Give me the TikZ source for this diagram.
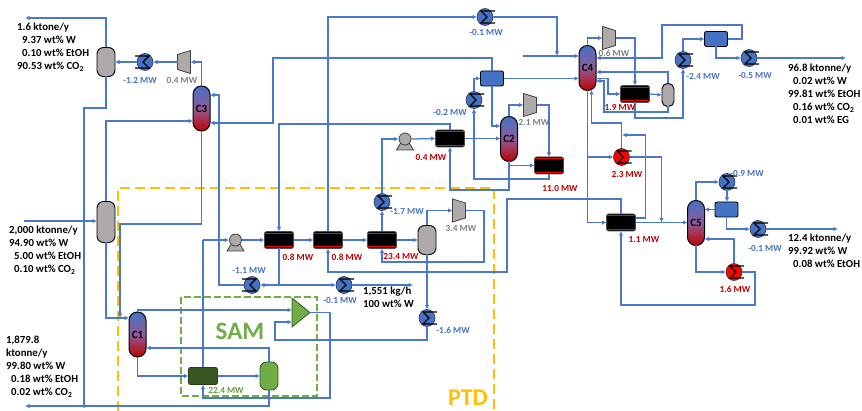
\documentclass[tikz,border=0pt]{standalone}
\usepackage{fontspec}
\setmainfont{Carlito}
\usetikzlibrary{arrows.meta,shapes.geometric}
\definecolor{pipec}{HTML}{4A78CC}
\definecolor{fillblue}{HTML}{4472C4}
\definecolor{mwblue}{HTML}{4472C4}
\definecolor{mwred}{HTML}{C00000}
\definecolor{midcol}{HTML}{8F5A98}
\definecolor{mwgrey}{HTML}{7F7F7F}
\definecolor{greyfill}{HTML}{AEAAAA}
\definecolor{samgreen}{HTML}{70AD47}
\definecolor{darkg}{HTML}{385723}
\definecolor{ptdc}{HTML}{FFC000}
\tikzset{
  pipe/.style={draw=pipec,line width=1.25pt},
  arr/.style={pipe,-{Latex[length=4.5pt,width=4.5pt]}},
  column/.style={rectangle,draw=black,line width=1pt,rounded corners=8.4pt,minimum width=17pt,minimum height=45pt,inner sep=0pt,outer sep=0pt,
    top color=fillblue,bottom color=mwred,middle color=midcol,font=\bfseries\fontsize{11}{12}\selectfont},
  vessel/.style={rectangle,draw=black,line width=.9pt,rounded corners=6.5pt,fill=greyfill,minimum width=18pt,inner sep=0pt,outer sep=0pt},
  hexblack/.style={rectangle,draw=black!70,line width=.6pt,rounded corners=2pt,fill=black,minimum width=29pt,minimum height=17pt,inner sep=0pt,outer sep=0pt,
    path picture={\draw[red,line width=1pt] ([yshift=-1.6pt]path picture bounding box.north west) -- ([yshift=-1.6pt]path picture bounding box.north east);
      \draw[red,line width=1pt] ([yshift=1.6pt]path picture bounding box.south west) -- ([yshift=1.6pt]path picture bounding box.south east);}},
  bluebox/.style={rectangle,draw=black,line width=.9pt,rounded corners=2pt,fill=fillblue,minimum width=23pt,minimum height=15pt,inner sep=0pt,outer sep=0pt},
  hxbody/.style={ellipse,draw=black!80,line width=.6pt,minimum width=16pt,minimum height=17pt,inner sep=0pt,outer sep=0pt},
  sigmaline/.style={draw=black,line width=1.1pt},
  ghost/.style={rectangle,inner sep=0pt,outer sep=0pt,minimum width=13pt,minimum height=23pt},
  grey shape/.style={draw=black!75,line width=.8pt,fill=greyfill},
  mwb/.style={inner sep=0pt,text=mwblue,font=\bfseries\fontsize{9.3}{10}\selectfont},
  mwr/.style={inner sep=0pt,text=mwred,font=\bfseries\fontsize{9.3}{10}\selectfont},
  mwg/.style={inner sep=0pt,text=mwgrey,font=\bfseries\fontsize{9.3}{10}\selectfont},
  stream/.style={anchor=north west,inner sep=0pt,align=left,text=black,font=\bfseries\fontsize{10.8}{13}\selectfont},
}
\newcommand{\hxR}[3]{% tails to the right
  \node[hxbody,fill=#3] (#1) at (#2) {};
  \draw[sigmaline] ([shift={(10pt,6pt)}]#1.center) -- ([shift={(-4pt,6pt)}]#1.center) -- ([shift={(2pt,0pt)}]#1.center) -- ([shift={(-4pt,-6pt)}]#1.center) -- ([shift={(10pt,-6pt)}]#1.center);}
\newcommand{\hxL}[3]{% tails to the left
  \node[hxbody,fill=#3] (#1) at (#2) {};
  \draw[sigmaline] ([shift={(-10pt,6pt)}]#1.center) -- ([shift={(4pt,6pt)}]#1.center) -- ([shift={(-2pt,0pt)}]#1.center) -- ([shift={(4pt,-6pt)}]#1.center) -- ([shift={(-10pt,-6pt)}]#1.center);}
\newcommand{\comprT}[2]{% tall side on the left
  \node[ghost] (#1) at (#2) {};
  \draw[grey shape] (#1.north west) -- ([yshift=-4pt]#1.north east) -- ([yshift=4pt]#1.south east) -- (#1.south west) -- cycle;}
\newcommand{\comprN}[2]{% tall side on the right
  \node[ghost] (#1) at (#2) {};
  \draw[grey shape] (#1.north east) -- ([yshift=-4pt]#1.north west) -- ([yshift=4pt]#1.south west) -- (#1.south east) -- cycle;}
\newcommand{\pumpsym}[2]{%
  \node[circle,minimum size=13pt,inner sep=0pt,outer sep=0pt] (#1) at (#2) {};
  \draw[grey shape] ([yshift=3pt]#1.center) -- ([shift={(8.5pt,-11pt)}]#1.center) -- ([shift={(-8.5pt,-11pt)}]#1.center) -- cycle;
  \draw[grey shape] (#1.center) circle (6pt);}
\begin{document}
\begin{tikzpicture}[x=1pt,y=-1pt]
\useasboundingbox (0,0) rectangle (862,411);
% dashed frames
\draw[ptdc,line width=1.2pt,dash pattern=on 10pt off 5pt] (118,411) -- (118,188) -- (494,188) -- (494,411);
\draw[samgreen,line width=1.2pt,dash pattern=on 7pt off 3pt] (181,297) rectangle (317,396);
% equipment
\node[vessel,minimum height=29pt] (V1) at (106,62) {};
\hxL{HXa}{145,62}{fillblue}
\comprN{Ka}{184,62}
\node[column] (C3) at (201.5,108.5) {C3};
\node[vessel,minimum height=41pt] (V2) at (106,222) {};
\node[column] (C1) at (137.5,334.5) {C1};
\node[rectangle,draw=darkg!70!black,line width=.8pt,rounded corners=2pt,fill=darkg,minimum width=29pt,minimum height=17pt,inner sep=0pt,outer sep=0pt] (HS) at (203,376) {};
\node[vessel,fill=samgreen,draw=darkg,minimum height=28pt] (VS) at (269,376) {};
\draw[fill=samgreen,draw=darkg,line width=.8pt] (292,298) -- (310,312.5) -- (292,327) -- cycle;
\node[rectangle,inner sep=0pt,outer sep=0pt,minimum width=18pt,minimum height=29pt] (TS) at (301,312.5) {};
\pumpsym{Pa}{235.5,240}
\node[hexblack] (H1) at (279,240) {};
\node[hexblack] (H2) at (328,240) {};
\node[hexblack] (H3) at (382,240) {};
\node[vessel,minimum height=29pt] (V3) at (427,240) {};
\comprT{Kb}{459,210.5}
\hxR{HXb}{382,202}{fillblue}
\hxL{HXc}{252,285}{fillblue}
\hxR{HXd}{344,285}{fillblue}
\hxR{HXe}{427,318}{fillblue}
\hxR{HXf}{485,17}{fillblue}
\node[bluebox] (Ba) at (492,78.5) {};
\hxR{HXg}{474,100}{fillblue}
\pumpsym{Pb}{405,139}
\node[hexblack] (H4) at (450,138.5) {};
\node[column] (C2) at (509,139) {C2};
\comprT{Kc}{530,105}
\node[hexblack] (H5) at (549,165.5) {};
\node[column] (C4) at (587.5,68) {C4};
\comprT{Kd}{609,38}
\node[hexblack] (H6) at (635,94) {};
\node[vessel,minimum width=12pt,rounded corners=5.5pt,minimum height=23pt] (V4) at (668,95) {};
\hxR{HXh}{683,60}{fillblue}
\node[bluebox] (Bb) at (716,39) {};
\hxR{HXi}{749,58}{fillblue}
\hxR{HXj}{621.5,157}{red}
\node[hexblack] (H7) at (621,222.5) {};
\node[column] (C5) at (696,223) {C5};
\hxR{HXk}{727,182}{fillblue}
\node[bluebox] (Bc) at (726.5,209.5) {};
\hxR{HXl}{758,229}{fillblue}
\hxR{HXm}{734,272}{red}
% free ends
\coordinate (outA) at (25,18);
\coordinate (outB) at (25,406);
\coordinate (feed) at (24,221);
\coordinate (outC) at (413,285);
\coordinate (outD) at (846,58);
\coordinate (outE) at (838,229);
\coordinate (c4in) at (523,56);
% left part
\draw[arr] (V1.north) -- (106,18) -- (outA);
\draw[arr] (HXa.west) -- (V1.east |- HXa.west);
\draw[arr] (Ka.west) -- (HXa.east);
\draw[arr] (C3.north) |- (Ka.east);
\draw[arr] (V1.south) -- (106,108) -- (84,108) -- (84,406) -- (88,406);
\draw[arr] (V2.north) |- (C3.west |- 0,121);
\draw[line width=1.8pt,draw=pipec] (feed) -- (84,221);
\draw[arr] (84,221) -- (V2.west |- 0,221);
\draw[arr] (V2.south) -- (106,318) -- (C1.west |- 0,318);
\draw[arr] (C3.south) -- (201.5,224) -- (120,224) -- (120,318);
\draw[arr] (HXc.west) -- (219,285) -- (219,95) -- (C3.east |- 0,95);
\draw[arr] (Ba.north) |- (273,58) -- (273,123) -- (C3.east |- 0,123);
\draw[arr] (H4.north) |- (279,124) -- (H1.north);
\draw[pipe] (H1.south) -- (279,285);
\draw[arr] (279,285) -- (HXc.east);
\draw[arr] (279,285) -- (HXd.west);
\draw[arr] (HXd.east) -- (outC);
% SAM
\draw[arr] (C1.north) |- (292,310);
\draw[arr] (C1.south) |- (HS.west);
\draw[arr] (HS.east) -- (VS.west);
\draw[arr] (VS.north) |- (C1.east |- 0,348);
\draw[arr] (VS.south) |- (outB);
\draw[pipe] (HS.north) |- (203,240);
\draw[arr] (203,240) -- (Pa.west);
\draw[arr] (310,312.5) -- (330,312.5) -- (330,398) -- (203,398) -- (HS.south);
\draw[arr] (HXe.south) -- (427,340) -- (275,340) -- (275,322) -- (292,322);
% row of exchangers
\draw[arr] (Pa.east) -- (H1.west);
\draw[arr] (H1.east) -- (H2.west);
\draw[arr] (H2.east) -- (H3.west);
\draw[arr] (H3.east) -- (V3.west);
\draw[arr] (V3.north) |- (Kb.west);
\draw[arr] (Kb.east) -- (484,210.5) -- (484,262) -- (382,262) -- (H3.south);
\draw[arr] (H3.north) -- (HXb.south);
\draw[arr] (HXb.north) |- (Pb.west);
\draw[arr] (V3.south) -- (HXe.north);
\draw[arr] (H7.north) |- (507,199) -- (507,272) -- (328,272) -- (H2.south);
\draw[arr] (H2.north) |- (HXf.west);
% C2 section
\draw[arr] (Pb.east) -- (H4.west);
\draw[arr] (H4.east) -- (C2.west |- H4.east);
\draw[arr] (H5.south) |- (474,179) -- (HXg.south);
\draw[arr] (HXg.north) |- (Ba.west);
\draw[arr] (Ba.east) -- (C4.west |- Ba.east);
\draw[arr] (Ba.south) |- (C2.west |- 0,126);
\draw[arr] (C2.south) -- (509,165.5) -- (H5.west);
\draw[arr] (509,165.5) -- (509,190) -- (450,190) -- (H4.south);
\draw[arr] (C2.north) |- (Kc.west);
\draw[arr] (Kc.east) -- (549,105) -- (H5.north);
\draw[arr] (HXf.east) -- (557,17) -- (557,56);
\draw[arr] (c4in) -- (C4.west |- 0,56);
% C4 section
\draw[arr] (C4.north) |- (Kd.west);
\draw[arr] (Kd.east) -- (635,38) -- (H6.north);
\draw[arr] (Bb.east) -- (742,39) -- (742,25) -- (662,25) -- (662,58) -- (C4.east |- 0,58);
\draw[arr] (V4.north) |- (C4.east |- 0,72);
\draw[arr] (C4.east |- 0,78.5) -- (608,78.5) -- (608,94) -- (H6.west);
\draw[arr] (H6.east) -- (V4.west);
\draw[arr] (V4.south) -- (668,112) -- (604,112) -- (604,81) -- (C4.east |- 0,81);
\draw[arr] (H6.south) -- (635,118) -- (683,118) -- (HXh.south);
\draw[arr] (HXh.north) |- (Bb.west);
\draw[arr] (Bb.south) |- (HXi.west);
\draw[arr] (HXi.east) -- (outD);
% C4 bottom / H7
\draw[pipe] (C4.south) -- (587.5,157);
\draw[arr] (587.5,157) -- (HXj.west);
\draw[arr] (587.5,157) |- (H7.west);
\draw[arr] (HXj.north) -- (621.5,123) -- (591.5,123) -- (591.5,90);
\draw[arr] (H7.east |- 0,218) -- (645.5,218) -- (645.5,135) -- (622,135);
\draw[arr] (HXj.east) -- (661.5,157) -- (661.5,222.5);
\draw[arr] (H7.east) -- (C5.west |- H7.east);
% C5
\draw[arr] (C5.north) |- (HXk.west);
\draw[arr] (HXk.south) -- (Bc.north -| HXk.south);
\draw[arr] (Bc.west) -- (C5.east |- Bc.west);
\draw[arr] (Bc.south) |- (HXl.west);
\draw[arr] (HXl.east) -- (outE);
\draw[arr] (C5.south) |- (HXm.west);
\draw[arr] (HXm.north) |- (C5.east |- 0,239);
\draw[arr] (HXm.east) -- (755,272) -- (755,305) -- (621,305) -- (H7.south);
% stream labels
\node[stream] (s1) at (17,23) {1.6 ktone/y\\\hspace*{5pt}9.37 wt\% W\\\hspace*{5pt}0.10 wt\% EtOH\\90.53 wt\% CO\textsubscript{2}};
\node[stream] (s2) at (9,226) {2,000 ktonne/y\\94.90 wt\% W\\\hspace*{5pt}5.00 wt\% EtOH\\\hspace*{5pt}0.10 wt\% CO\textsubscript{2}};
\node[stream] (s3) at (6,336) {1,879.8\\ktonne/y\\99.80 wt\% W\\\hspace*{5pt}0.18 wt\% EtOH\\\hspace*{5pt}0.02 wt\% CO\textsubscript{2}};
\node[stream] (s4) at (363,287) {1,551 kg/h\\100 wt\% W};
\node[stream] (s5) at (788,64) {96.8 ktonne/y\\\hspace*{5pt}0.02 wt\% W\\99.81 wt\% EtOH\\\hspace*{5pt}0.16 wt\% CO\textsubscript{2}\\\hspace*{5pt}0.01 wt\% EG};
\node[stream] (s6) at (788,234) {12.4 ktonne/y\\99.92 wt\% W\\\hspace*{5pt}0.08 wt\% EtOH};
% duty labels
\node[mwb] (m1) at (140,80) {-1.2 MW};
\node[mwg] (m2) at (182,80) {0.4 MW};
\node[mwb] (m3) at (249,271) {-1.1 MW};
\node[mwr] (m4) at (298,257) {0.8 MW};
\node[mwr] (m5) at (347,257) {0.8 MW};
\node[mwr] (m6) at (401,256) {23.4 MW};
\node[mwb] (m7) at (407,212) {-1.7 MW};
\node[mwg] (m8) at (461,228) {3.4 MW};
\node[mwb] (m9) at (340,300) {-0.1 MW};
\node[mwb] (m10) at (453,330) {-1.6 MW};
\node[mwb] (m11) at (486,32) {-0.1 MW};
\node[mwb] (m12) at (450,112) {-0.2 MW};
\node[mwg] (m13) at (534,122) {2.1 MW};
\node[mwr] (m14) at (431,157) {0.4 MW};
\node[mwr] (m15) at (560,188) {11.0 MW};
\node[mwg] (m16) at (614,53) {0.6 MW};
\node[mwb] (m17) at (703,76) {-2.4 MW};
\node[mwb] (m18) at (755,75) {-0.5 MW};
\node[mwr] (m19) at (620,107) {1.9 MW};
\node[mwr] (m20) at (627,174) {2.3 MW};
\node[mwr] (m21) at (644,240) {1.1 MW};
\node[mwb] (m22) at (747,173) {-0.9 MW};
\node[mwb] (m23) at (765,248) {-0.1 MW};
\node[mwr] (m24) at (735,289) {1.6 MW};
\node[inner sep=0pt,text=samgreen!80!darkg,font=\bfseries\fontsize{9.3}{10}\selectfont] (m25) at (226,390) {22.4 MW};
\node[inner sep=0pt,text=samgreen,font=\bfseries\fontsize{25}{26}\selectfont] (tSAM) at (240,331) {SAM};
\node[inner sep=0pt,text=ptdc,font=\bfseries\fontsize{24}{26}\selectfont] (tPTD) at (468,398) {PTD};
\end{tikzpicture}
\end{document}
